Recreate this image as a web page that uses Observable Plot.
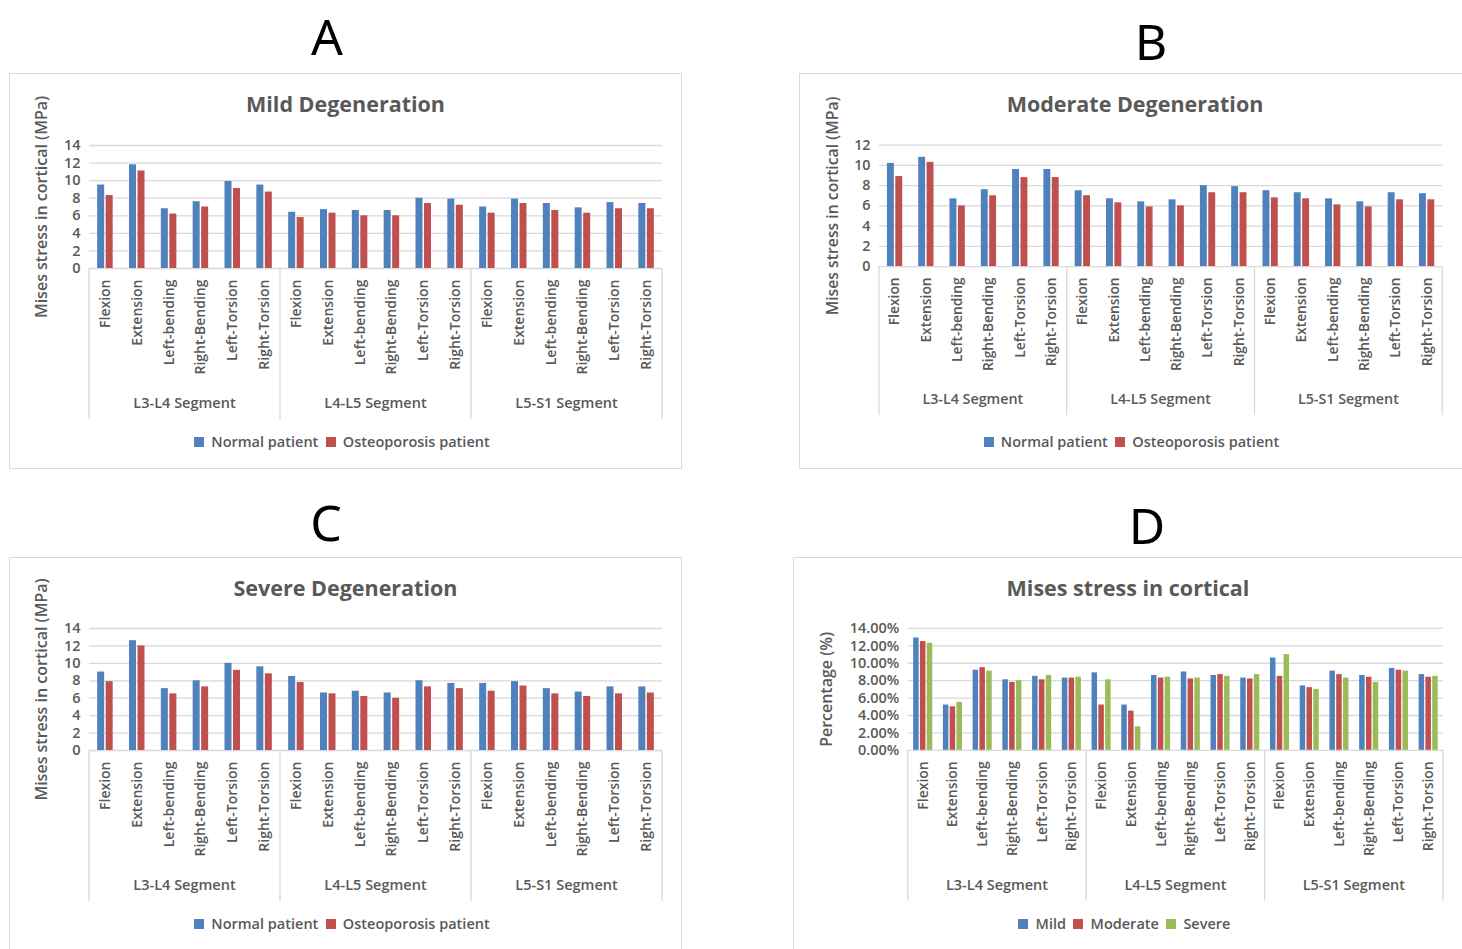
<!DOCTYPE html>
<html><head><meta charset="utf-8">
<script src="https://cdn.jsdelivr.net/npm/d3@7"></script>
<script src="https://cdn.jsdelivr.net/npm/@observablehq/plot@0.6"></script>
<style>
body{margin:0;background:#fff;width:1462px;height:949px;position:relative;overflow:hidden;font-family:"Open Sans",sans-serif;}
.letter{position:absolute;font-family:"Noto Sans",sans-serif;font-size:50px;color:#000;line-height:1;transform:translate(-50%,-50%);}
.box{position:absolute;border:1.5px solid #d9d9d9;box-sizing:border-box;background:#fff;}
.title{position:absolute;text-align:center;font-weight:700;font-size:21.5px;color:#595959;line-height:28px;}
.legwrap{position:absolute;display:flex;justify-content:center;}
.legwrap span{margin-right:0.5em !important;}
.abs{position:absolute;}
g[aria-label="y-axis label"] text{font-size:16px;}
g[aria-label="y-axis tick label"] text{font-size:14.5px;}
g[aria-label="x-axis tick label"] text{font-size:14px;}
</style></head><body>
<script>
// ---------- data ----------
const segments = ["L3-L4 Segment", "L4-L5 Segment", "L5-S1 Segment"];
const movements = ["Flexion", "Extension", "Left-bending", "Right-Bending", "Left-Torsion", "Right-Torsion"];
const patientSeries = ["Normal patient", "Osteoporosis patient"];
const severitySeries = ["Mild", "Moderate", "Severe"];
const panelLetters = ["A", "B", "C", "D"];
const panelTitles = ["Mild Degeneration", "Moderate Degeneration", "Severe Degeneration", "Mises stress in cortical"];
const yLabelStress = "Mises stress in cortical (MPa)";
const yLabelPct = "Percentage (%)";
const yTicks14 = [0, 2, 4, 6, 8, 10, 12, 14];
const yTicks12 = [0, 2, 4, 6, 8, 10, 12];
const yTicksPct = [0, 2, 4, 6, 8, 10, 12, 14];

// order: L3-L4 (6 movements), L4-L5 (6), L5-S1 (6)
const mildNormal = [9.5, 11.8, 6.8, 7.6, 9.9, 9.5, 6.4, 6.7, 6.6, 6.6, 8.0, 7.9, 7.0, 7.9, 7.4, 6.9, 7.5, 7.4];
const mildOsteo = [8.3, 11.1, 6.2, 7.0, 9.1, 8.7, 5.8, 6.3, 6.0, 6.0, 7.4, 7.2, 6.3, 7.4, 6.6, 6.3, 6.8, 6.8];
const moderateNormal = [10.2, 10.8, 6.7, 7.6, 9.6, 9.6, 7.5, 6.7, 6.4, 6.6, 8.0, 7.9, 7.5, 7.3, 6.7, 6.4, 7.3, 7.2];
const moderateOsteo = [8.9, 10.3, 6.0, 7.0, 8.8, 8.8, 7.0, 6.3, 5.9, 6.0, 7.3, 7.3, 6.8, 6.7, 6.1, 5.9, 6.6, 6.6];
const severeNormal = [9.0, 12.6, 7.1, 8.0, 10.0, 9.6, 8.5, 6.6, 6.8, 6.6, 8.0, 7.7, 7.7, 7.9, 7.1, 6.7, 7.3, 7.3];
const severeOsteo = [7.9, 12.0, 6.5, 7.3, 9.2, 8.8, 7.8, 6.5, 6.2, 6.0, 7.3, 7.1, 6.8, 7.4, 6.5, 6.2, 6.5, 6.6];
const pctMild = [12.9, 5.2, 9.2, 8.1, 8.5, 8.3, 8.9, 5.2, 8.6, 9.0, 8.6, 8.3, 10.6, 7.4, 9.1, 8.6, 9.4, 8.7];
const pctModerate = [12.5, 5.0, 9.5, 7.8, 8.1, 8.3, 5.2, 4.5, 8.3, 8.2, 8.7, 8.2, 8.5, 7.2, 8.7, 8.4, 9.2, 8.4];
const pctSevere = [12.3, 5.5, 9.1, 8.0, 8.6, 8.4, 8.1, 2.7, 8.4, 8.3, 8.5, 8.7, 11.0, 7.0, 8.3, 7.8, 9.1, 8.5];

// ---------- styles / layout ----------
const blue = "#4f81bd", red = "#c0504d", green = "#9bbb59";
const textColor = "#595959", gridColor = "#d9d9d9";
const fmtInt = d => String(d);
const fmtPct = d => d.toFixed(2) + "%";

const panels = [
  {letter: panelLetters[0], letterPos: [327, 36], title: panelTitles[0], box: [9, 73, 673, 396], frame: [89, 662, 145, 268],
   ylabel: yLabelStress, yTicks: yTicks14, fmt: fmtInt, names: patientSeries, colors: [blue, red],
   values: [mildNormal, mildOsteo], barW: 7, gap: 1.5, labelEdge: 35},
  {letter: panelLetters[1], letterPos: [1151, 41], title: panelTitles[1], box: [799, 73, 672, 396], frame: [880, 1451, 145, 268],
   ylabel: yLabelStress, yTicks: yTicks12, fmt: fmtInt, names: patientSeries, colors: [blue, red],
   values: [moderateNormal, moderateOsteo], barW: 7, gap: 1.5, labelEdge: 827},
  {letter: panelLetters[2], letterPos: [326, 522], title: panelTitles[2], box: [9, 557, 673, 400], frame: [89, 662, 628, 750],
   ylabel: yLabelStress, yTicks: yTicks14, fmt: fmtInt, names: patientSeries, colors: [blue, red],
   values: [severeNormal, severeOsteo], barW: 7, gap: 1.5, labelEdge: 35},
  {letter: panelLetters[3], letterPos: [1147, 525], title: panelTitles[3], box: [793, 557, 670, 400], frame: [908, 1444, 628, 750],
   ylabel: yLabelPct, yTicks: yTicksPct, fmt: fmtPct, names: severitySeries, colors: [blue, red, green],
   values: [pctMild, pctModerate, pctSevere], barW: 5.5, gap: 1.3, labelEdge: 820}
];

function el(cls, css, text) {
  const d = document.createElement("div");
  if (cls) d.className = cls;
  Object.assign(d.style, css);
  if (text != null) d.textContent = text;
  document.body.appendChild(d);
  return d;
}

function drawPanel(p) {
  const [bx, by, bw, bh] = p.box;
  const [fx0, fx1, fy0, fy1] = p.frame;
  el("letter", {left: p.letterPos[0] + "px", top: p.letterPos[1] + "px"}, p.letter);
  el("box", {left: bx + "px", top: by + "px", width: bw + "px", height: bh + "px"});
  el("title", {left: bx + "px", width: bw + "px", top: (by + 17) + "px"}, p.title);

  const keys = segments.flatMap(s => movements.map(m => s + "|" + m));
  const svgTop = by + 50, svgH = 302;
  const ml = fx0 - bx, mr = bx + bw - fx1, mt = fy0 - svgTop, plotH = fy1 - fy0;
  const step = (fx1 - fx0) / keys.length;
  const n = p.names.length;
  const groupW = n * p.barW + (n - 1) * p.gap;
  const marks = [Plot.ruleY(p.yTicks, {stroke: gridColor, strokeWidth: 1.3})];
  p.names.forEach((name, i) => {
    const left = step / 2 - groupW / 2 + i * (p.barW + p.gap);
    const rows = keys.map((k, j) => ({key: k, value: p.values[i][j], name}));
    marks.push(Plot.barY(rows, {x: "key", y: "value", fill: "name",
      insetLeft: left, insetRight: step - left - p.barW}));
  });
  const ymax = p.yTicks[p.yTicks.length - 1];
  const plot = Plot.plot({
    width: bw, height: svgH,
    marginLeft: ml, marginRight: mr, marginTop: mt, marginBottom: svgH - mt - plotH,
    style: {fontFamily: '"Open Sans", sans-serif', fontSize: "13px", fontWeight: 600, color: textColor,
            background: "transparent", overflow: "visible"},
    x: {domain: keys, padding: 0, round: false, tickFormat: k => k.split("|")[1], tickRotate: -90, tickSize: 0,
        tickPadding: 11, label: null},
    y: {domain: [0, ymax], ticks: p.yTicks, tickSize: 0, tickPadding: 9, tickFormat: p.fmt,
        label: p.ylabel, labelAnchor: "center", labelArrow: "none", labelOffset: fx0 - p.labelEdge},
    color: {domain: p.names, range: p.colors},
    marks
  });
  // strip any direction arrow from the axis label
  d3.select(plot).selectAll('g[aria-label="y-axis label"] text').each(function() {
    this.textContent = this.textContent.replace(/\s*[↑↓]\s*/g, "");
  });
  // hierarchical axis: separators and segment labels, positioned from the plot's x scale
  const xs = plot.scale("x");
  const zeroY = mt + plotH;
  const g = d3.select(plot).append("g");
  const bounds = segments.map(s => xs.apply(s + "|" + movements[0]));
  bounds.push(xs.apply(keys[keys.length - 1]) + xs.bandwidth);
  bounds.forEach(x => g.append("line").attr("x1", x).attr("x2", x).attr("y1", zeroY).attr("y2", zeroY + 151)
    .attr("stroke", gridColor).attr("stroke-width", 1.3));
  segments.forEach((s, i) => g.append("text").attr("x", (bounds[i] + bounds[i + 1]) / 2).attr("y", zeroY + 135)
    .attr("text-anchor", "middle").attr("dy", "0.35em").attr("font-size", 14.5).attr("fill", textColor)
    .attr("font-weight", 600).text(s));
  const wrap = el("abs", {left: bx + "px", top: svgTop + "px"});
  wrap.appendChild(plot);

  const leg = Plot.legend({color: {domain: p.names, range: p.colors}, swatchSize: 10,
    style: {fontFamily: '"Open Sans", sans-serif', fontSize: "14.5px", fontWeight: 600, color: textColor}});
  const lw = el("legwrap", {left: bx + "px", width: bw + "px", top: (fy1 + 174 - 17) + "px"});
  lw.appendChild(leg);
}

panels.forEach(drawPanel);
</script>
</body></html>
